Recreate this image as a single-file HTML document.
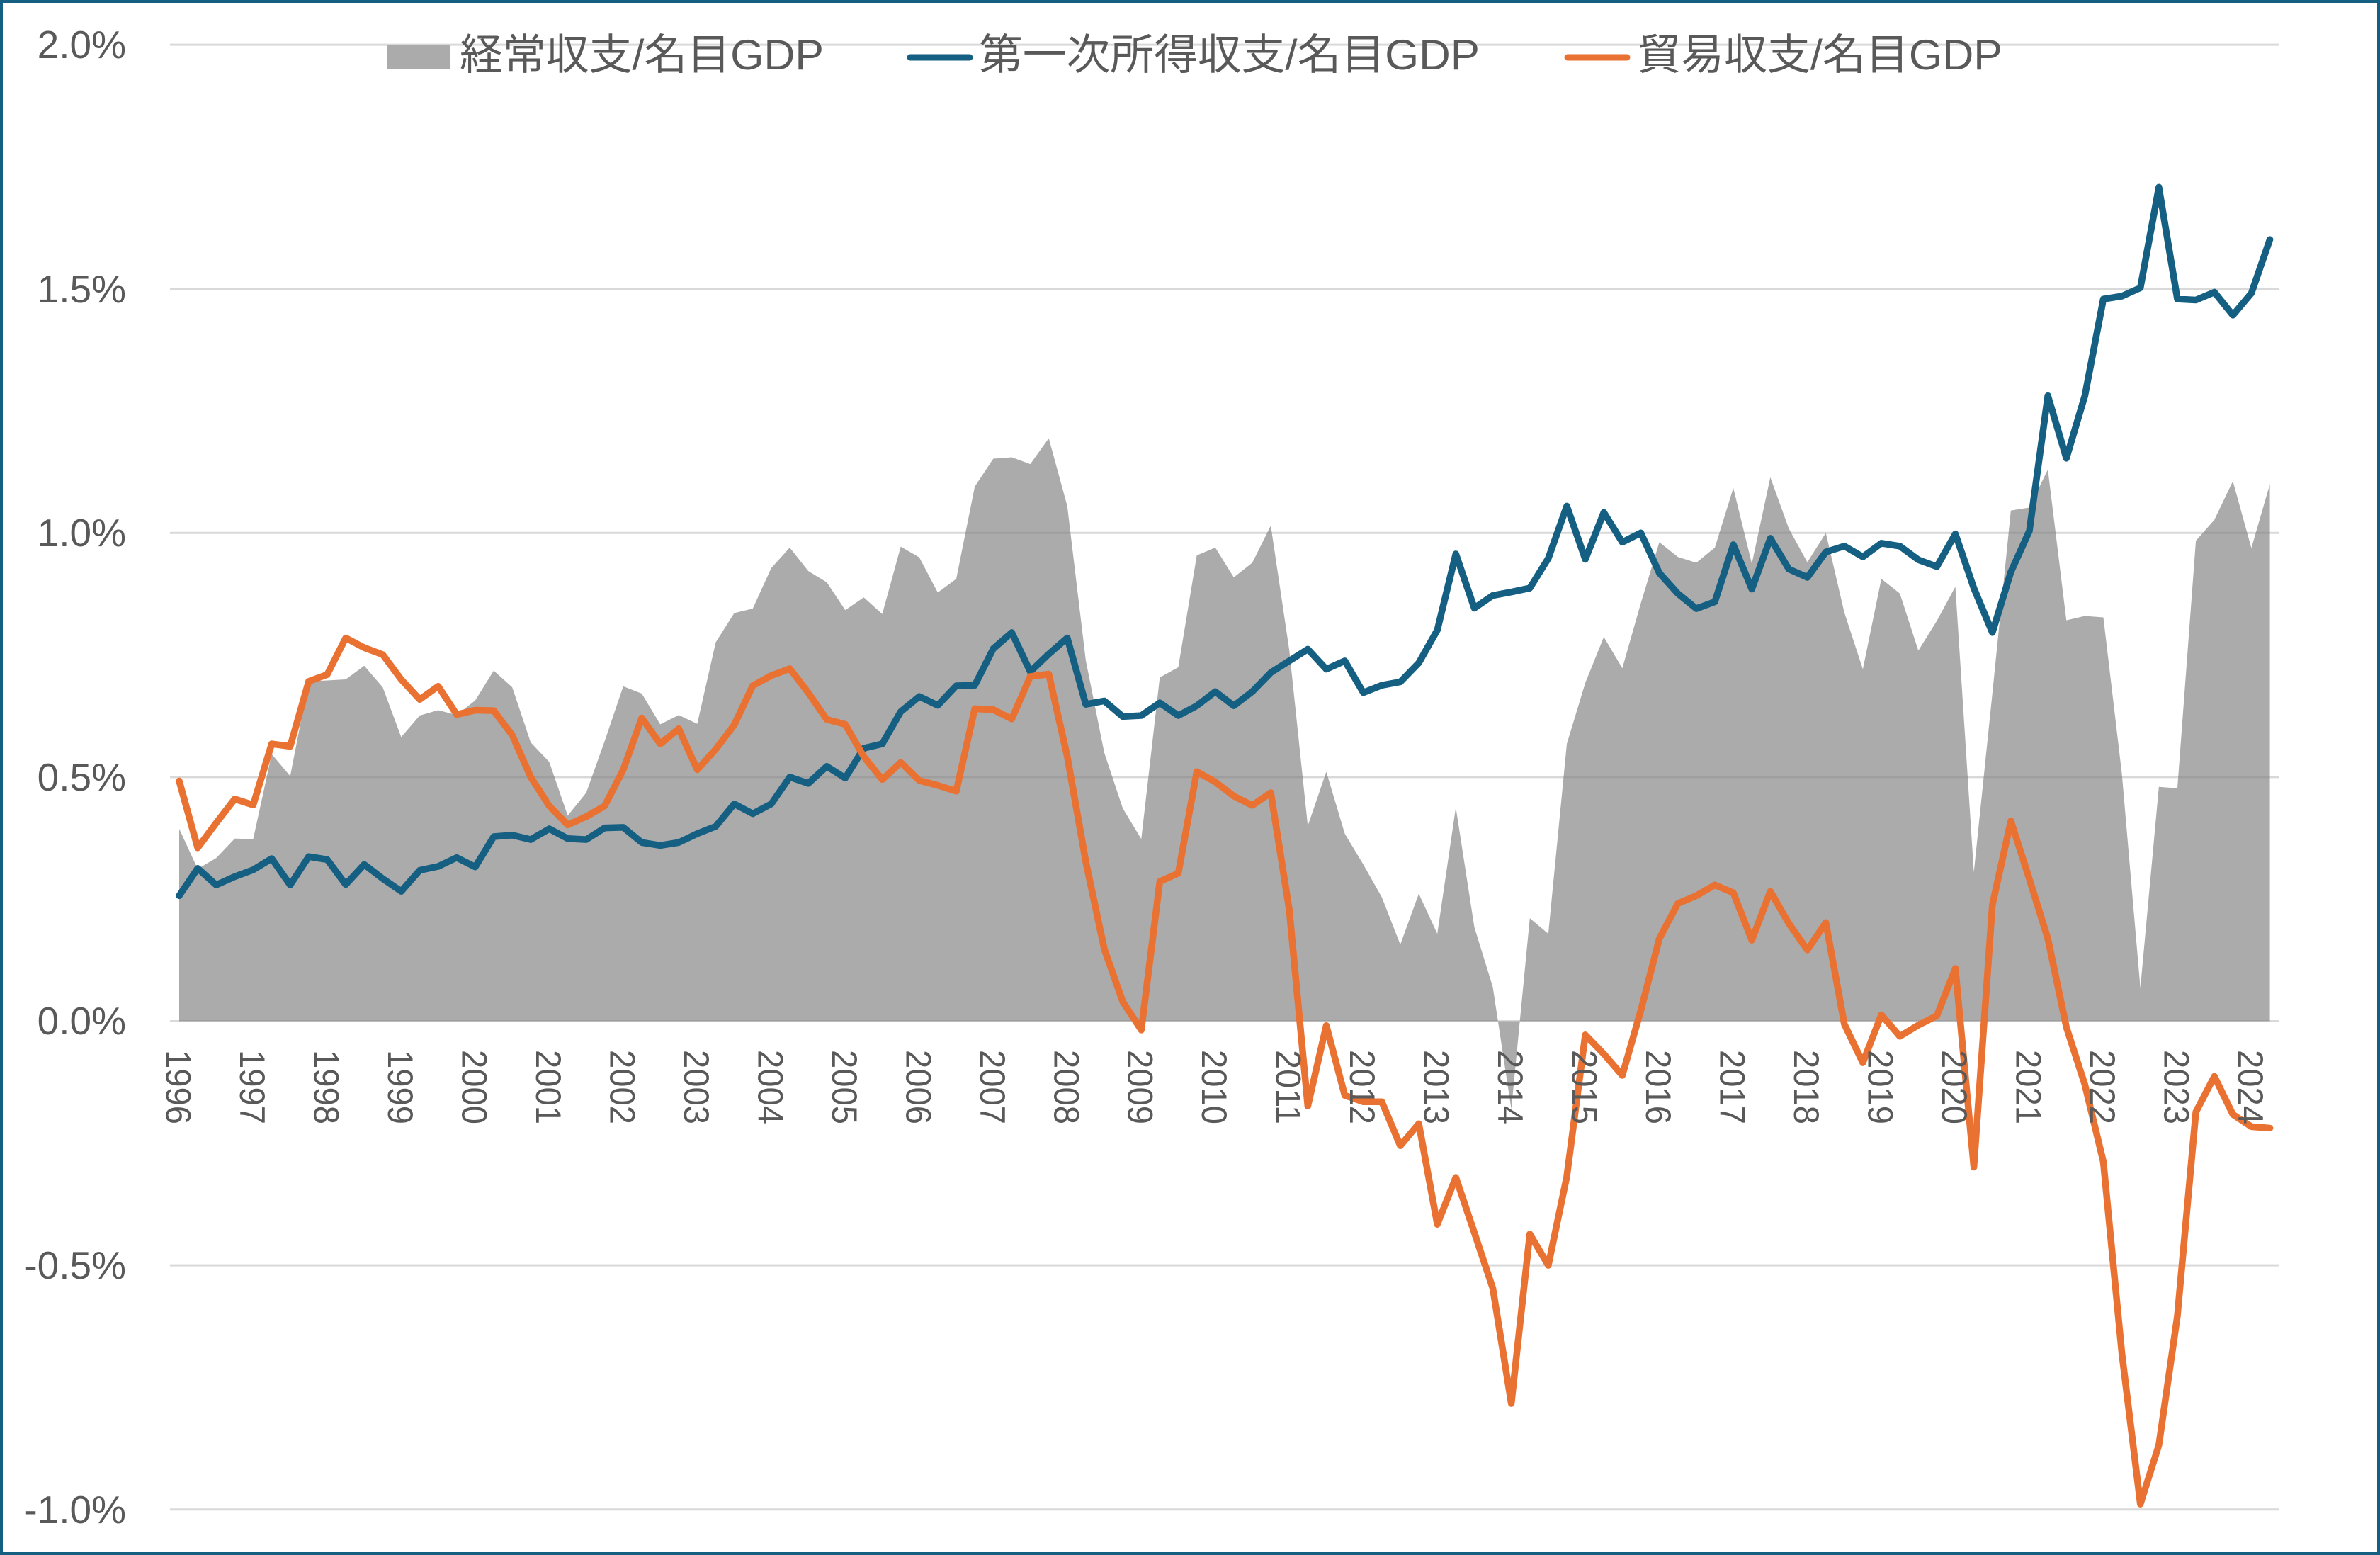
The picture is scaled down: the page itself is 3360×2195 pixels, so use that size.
<!DOCTYPE html>
<html>
<head>
<meta charset="utf-8">
<style>
html,body{margin:0;padding:0;background:#fff;}
svg{display:block;}
text{font-family:"Liberation Sans","Noto Sans CJK JP",sans-serif;fill:#595959;}
</style>
</head>
<body>
<svg width="3360" height="2195" viewBox="0 0 3360 2195" xmlns="http://www.w3.org/2000/svg">
<rect x="2" y="2" width="3356" height="2191" fill="#ffffff" stroke="#156082" stroke-width="4"/>

<!-- gridlines -->
<g stroke="#d9d9d9" stroke-width="3">
<line x1="240" y1="63.1" x2="3217" y2="63.1"/>
<line x1="240" y1="407.7" x2="3217" y2="407.7"/>
<line x1="240" y1="752.3" x2="3217" y2="752.3"/>
<line x1="240" y1="1096.9" x2="3217" y2="1096.9"/>
<line x1="240" y1="1441.5" x2="3217" y2="1441.5"/>
<line x1="240" y1="1786.1" x2="3217" y2="1786.1"/>
<line x1="240" y1="2130.7" x2="3217" y2="2130.7"/>
</g>

<!-- y labels -->
<g font-size="55" text-anchor="end">
<text x="178" y="82">2.0%</text>
<text x="178" y="427">1.5%</text>
<text x="178" y="771">1.0%</text>
<text x="178" y="1116">0.5%</text>
<text x="178" y="1460">0.0%</text>
<text x="178" y="1805">-0.5%</text>
<text x="178" y="2150">-1.0%</text>
</g>

<g transform="translate(253,1441.5) scale(26.12,-689.2)">
<polygon fill="#7f7f7f" fill-opacity="0.66" points="0,0 0,0.394 1,0.312 2,0.334 3,0.374 4,0.373 5,0.547 6,0.502 7,0.696 8,0.698 9,0.700 10,0.728 11,0.684 12,0.582 13,0.626 14,0.637 15,0.627 16,0.657 17,0.718 18,0.684 19,0.571 20,0.531 21,0.421 22,0.468 23,0.574 24,0.686 25,0.671 26,0.608 27,0.627 28,0.609 29,0.776 30,0.836 31,0.845 32,0.928 33,0.970 34,0.922 35,0.899 36,0.842 37,0.868 38,0.834 39,0.972 40,0.950 41,0.878 42,0.906 43,1.095 44,1.152 45,1.155 46,1.141 47,1.194 48,1.055 49,0.739 50,0.550 51,0.436 52,0.373 53,0.704 54,0.725 55,0.954 56,0.970 57,0.909 58,0.939 59,1.015 60,0.760 61,0.400 62,0.511 63,0.384 64,0.321 65,0.254 66,0.157 67,0.261 68,0.179 69,0.438 70,0.193 71,0.070 72,-0.180 73,0.211 74,0.179 75,0.568 76,0.693 77,0.787 78,0.723 79,0.856 80,0.981 81,0.951 82,0.939 83,0.970 84,1.092 85,0.937 86,1.114 87,1.009 88,0.940 89,1.000 90,0.837 91,0.721 92,0.906 93,0.876 94,0.759 95,0.820 96,0.890 97,0.305 98,0.671 99,1.046 100,1.052 101,1.130 102,0.821 103,0.830 104,0.827 105,0.507 106,0.068 107,0.480 108,0.477 109,0.984 110,1.027 111,1.106 112,0.969 113,1.100 113,0"/>
<polyline fill="none" stroke="#156082" stroke-width="9.5" stroke-linejoin="round" stroke-linecap="round" vector-effect="non-scaling-stroke" points="0,0.257 1,0.313 2,0.279 3,0.296 4,0.310 5,0.333 6,0.279 7,0.337 8,0.331 9,0.280 10,0.321 11,0.292 12,0.266 13,0.309 14,0.317 15,0.335 16,0.316 17,0.378 18,0.381 19,0.372 20,0.394 21,0.374 22,0.372 23,0.396 24,0.397 25,0.366 26,0.360 27,0.366 28,0.384 29,0.399 30,0.445 31,0.425 32,0.445 33,0.500 34,0.487 35,0.522 36,0.498 37,0.559 38,0.568 39,0.634 40,0.665 41,0.647 42,0.687 43,0.688 44,0.763 45,0.796 46,0.716 47,0.752 48,0.785 49,0.649 50,0.656 51,0.624 52,0.626 53,0.652 54,0.626 55,0.646 56,0.675 57,0.646 58,0.675 59,0.714 60,0.738 61,0.762 62,0.721 63,0.738 64,0.673 65,0.688 66,0.695 67,0.734 68,0.801 69,0.957 70,0.846 71,0.872 72,0.879 73,0.887 74,0.948 75,1.055 76,0.946 77,1.042 78,0.981 79,1.000 80,0.918 81,0.876 82,0.845 83,0.859 84,0.976 85,0.885 86,0.989 87,0.926 88,0.909 89,0.961 90,0.973 91,0.951 92,0.979 93,0.973 94,0.945 95,0.931 96,0.998 97,0.887 98,0.796 99,0.920 100,1.004 101,1.281 102,1.153 103,1.281 104,1.479 105,1.485 106,1.502 107,1.708 108,1.479 109,1.477 110,1.493 111,1.446 112,1.491 113,1.601"/>
<polyline fill="none" stroke="#E97132" stroke-width="9.5" stroke-linejoin="round" stroke-linecap="round" vector-effect="non-scaling-stroke" points="0,0.492 1,0.355 2,0.406 3,0.455 4,0.443 5,0.568 6,0.563 7,0.696 8,0.710 9,0.785 10,0.765 11,0.751 12,0.700 13,0.659 14,0.686 15,0.628 16,0.637 17,0.636 18,0.586 19,0.500 20,0.441 21,0.402 22,0.419 23,0.441 24,0.515 25,0.621 26,0.568 27,0.599 28,0.515 29,0.557 30,0.607 31,0.687 32,0.708 33,0.722 34,0.673 35,0.618 36,0.608 37,0.542 38,0.495 39,0.530 40,0.493 41,0.483 42,0.471 43,0.640 44,0.638 45,0.619 46,0.706 47,0.711 48,0.542 49,0.327 50,0.148 51,0.040 52,-0.018 53,0.286 54,0.303 55,0.511 56,0.490 57,0.461 58,0.442 59,0.468 60,0.228 61,-0.174 62,-0.009 63,-0.152 64,-0.165 65,-0.165 66,-0.255 67,-0.210 68,-0.416 69,-0.320 70,-0.433 71,-0.547 72,-0.783 73,-0.436 74,-0.500 75,-0.318 76,-0.028 77,-0.067 78,-0.111 79,0.022 80,0.169 81,0.241 82,0.257 83,0.279 84,0.263 85,0.166 86,0.266 87,0.200 88,0.146 89,0.202 90,-0.006 91,-0.085 92,0.013 93,-0.031 94,-0.008 95,0.011 96,0.108 97,-0.299 98,0.238 99,0.410 100,0.291 101,0.169 102,-0.012 103,-0.130 104,-0.288 105,-0.680 106,-0.989 107,-0.868 108,-0.604 109,-0.186 110,-0.113 111,-0.191 112,-0.216 113,-0.219"/>
</g>

<!-- x labels -->
<g font-size="50">
<text transform="translate(234.5,1482) rotate(90)" textLength="105" lengthAdjust="spacingAndGlyphs">1996</text>
<text transform="translate(339.0,1482) rotate(90)" textLength="105" lengthAdjust="spacingAndGlyphs">1997</text>
<text transform="translate(443.5,1482) rotate(90)" textLength="105" lengthAdjust="spacingAndGlyphs">1998</text>
<text transform="translate(547.9,1482) rotate(90)" textLength="105" lengthAdjust="spacingAndGlyphs">1999</text>
<text transform="translate(652.4,1482) rotate(90)" textLength="105" lengthAdjust="spacingAndGlyphs">2000</text>
<text transform="translate(756.9,1482) rotate(90)" textLength="105" lengthAdjust="spacingAndGlyphs">2001</text>
<text transform="translate(861.4,1482) rotate(90)" textLength="105" lengthAdjust="spacingAndGlyphs">2002</text>
<text transform="translate(965.9,1482) rotate(90)" textLength="105" lengthAdjust="spacingAndGlyphs">2003</text>
<text transform="translate(1070.3,1482) rotate(90)" textLength="105" lengthAdjust="spacingAndGlyphs">2004</text>
<text transform="translate(1174.8,1482) rotate(90)" textLength="105" lengthAdjust="spacingAndGlyphs">2005</text>
<text transform="translate(1279.3,1482) rotate(90)" textLength="105" lengthAdjust="spacingAndGlyphs">2006</text>
<text transform="translate(1383.8,1482) rotate(90)" textLength="105" lengthAdjust="spacingAndGlyphs">2007</text>
<text transform="translate(1488.3,1482) rotate(90)" textLength="105" lengthAdjust="spacingAndGlyphs">2008</text>
<text transform="translate(1592.7,1482) rotate(90)" textLength="105" lengthAdjust="spacingAndGlyphs">2009</text>
<text transform="translate(1697.2,1482) rotate(90)" textLength="105" lengthAdjust="spacingAndGlyphs">2010</text>
<text transform="translate(1801.7,1482) rotate(90)" textLength="105" lengthAdjust="spacingAndGlyphs">2011</text>
<text transform="translate(1906.2,1482) rotate(90)" textLength="105" lengthAdjust="spacingAndGlyphs">2012</text>
<text transform="translate(2010.7,1482) rotate(90)" textLength="105" lengthAdjust="spacingAndGlyphs">2013</text>
<text transform="translate(2115.1,1482) rotate(90)" textLength="105" lengthAdjust="spacingAndGlyphs">2014</text>
<text transform="translate(2219.6,1482) rotate(90)" textLength="105" lengthAdjust="spacingAndGlyphs">2015</text>
<text transform="translate(2324.1,1482) rotate(90)" textLength="105" lengthAdjust="spacingAndGlyphs">2016</text>
<text transform="translate(2428.6,1482) rotate(90)" textLength="105" lengthAdjust="spacingAndGlyphs">2017</text>
<text transform="translate(2533.1,1482) rotate(90)" textLength="105" lengthAdjust="spacingAndGlyphs">2018</text>
<text transform="translate(2637.5,1482) rotate(90)" textLength="105" lengthAdjust="spacingAndGlyphs">2019</text>
<text transform="translate(2742.0,1482) rotate(90)" textLength="105" lengthAdjust="spacingAndGlyphs">2020</text>
<text transform="translate(2846.5,1482) rotate(90)" textLength="105" lengthAdjust="spacingAndGlyphs">2021</text>
<text transform="translate(2951.0,1482) rotate(90)" textLength="105" lengthAdjust="spacingAndGlyphs">2022</text>
<text transform="translate(3055.5,1482) rotate(90)" textLength="105" lengthAdjust="spacingAndGlyphs">2023</text>
<text transform="translate(3159.9,1482) rotate(90)" textLength="105" lengthAdjust="spacingAndGlyphs">2024</text>
</g>

<!-- legend -->
<rect x="547" y="63" width="88" height="35" fill="#ababab"/>
<text x="649" y="98" font-size="60" textLength="514" lengthAdjust="spacingAndGlyphs">経常収支/名目GDP</text>
<line x1="1285" y1="81" x2="1369" y2="81" stroke="#156082" stroke-width="9" stroke-linecap="round"/>
<text x="1382" y="98" font-size="60" textLength="707" lengthAdjust="spacingAndGlyphs">第一次所得収支/名目GDP</text>
<line x1="2213" y1="81" x2="2297" y2="81" stroke="#E97132" stroke-width="9" stroke-linecap="round"/>
<text x="2312" y="98" font-size="60" textLength="515" lengthAdjust="spacingAndGlyphs">貿易収支/名目GDP</text>
</svg>
</body>
</html>
